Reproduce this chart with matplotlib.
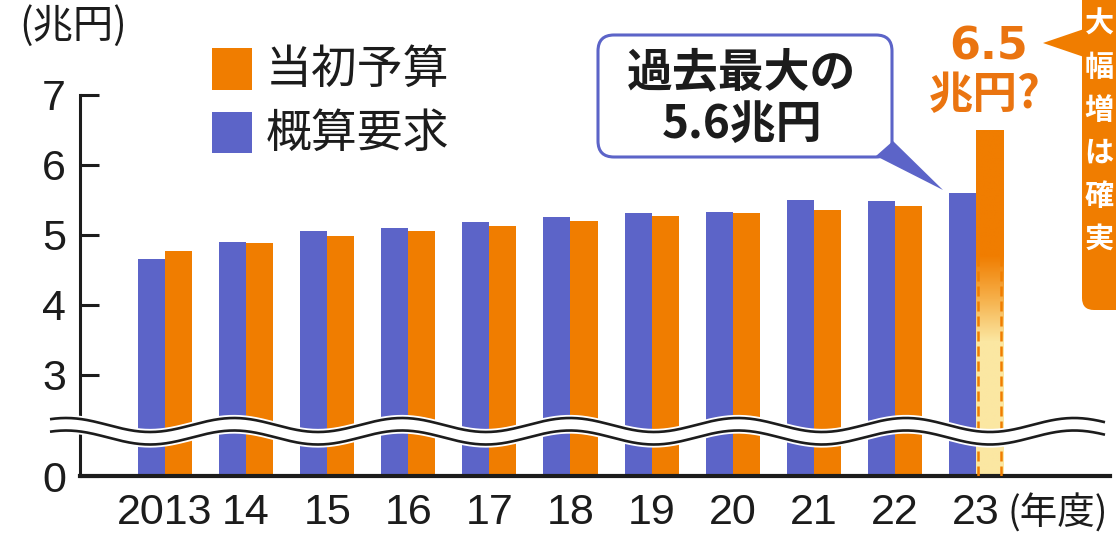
import numpy as np
import matplotlib.pyplot as plt
from matplotlib.patches import FancyBboxPatch, Polygon, Rectangle
from matplotlib.colors import LinearSegmentedColormap

# data (兆円)
years = ['2013', '14', '15', '16', '17', '18', '19', '20', '21', '22', '23']
gaisan = [4.66, 4.90, 5.06, 5.10, 5.18, 5.26, 5.31, 5.33, 5.50, 5.49, 5.60]   # 概算要求
tousho = [4.77, 4.89, 4.99, 5.06, 5.13, 5.20, 5.27, 5.32, 5.35, 5.41, 6.50]   # 当初予算 (23 = 見込み)
yticks = [0, 3, 4, 5, 6, 7]

BLUE = '#5c64c8'
ORANGE = '#f07d00'
PALE = '#fbe7a2'
INK = '#1c1c1c'
JP = ['Noto Sans CJK JP', 'DejaVu Sans']
NUM = ['Liberation Sans', 'DejaVu Sans']

BREAK = 1.557   # where "0" sits on the broken axis


def pos(v):
    return BREAK if v == 0 else v


W, H = 1116, 537
fig = plt.figure(figsize=(W / 100, H / 100), dpi=100)
ax = fig.add_axes([80 / W, (H - 476) / H, (1110 - 80) / W, (476 - 95) / H])

x = np.arange(len(years))
bw = 0.333
gaisan = np.array(gaisan)
tousho = np.array(tousho)

ax.bar(x - bw / 2, gaisan - BREAK, bw, bottom=BREAK, color=BLUE, zorder=2)
ax.bar(x[:-1] + bw / 2, tousho[:-1] - BREAK, bw, bottom=BREAK, color=ORANGE, zorder=2)

# 2023: projected bar, solid on top and fading to pale yellow
last = ax.bar(x[-1] + bw / 2, tousho[-1] - BREAK, bw, bottom=BREAK,
              facecolor='none', edgecolor='none', zorder=2)[0]
x0, x1 = x[-1], x[-1] + bw
yy = np.linspace(BREAK, tousho[-1], 300)
t = np.clip((yy - 3.47) / (4.70 - 3.47), 0, 1)
cmap = LinearSegmentedColormap.from_list('fade', [PALE, '#f6b04a', ORANGE])
img = ax.imshow(t[:, None], cmap=cmap, vmin=0, vmax=1, origin='lower', aspect='auto',
                extent=[x0, x1, BREAK, tousho[-1]], zorder=2)
img.set_clip_path(last)
for xe in (x0 + 0.02, x1 - 0.02):
    ax.plot([xe, xe], [BREAK, 4.70], color=ORANGE, lw=1.8, ls=(0, (4, 2)), zorder=3)

ax.set_xlim((80 - 165) / 81.1, (1110 - 165) / 81.1)
ax.set_ylim(BREAK, 7)
ax.set_yticks([pos(v) for v in yticks])
ax.set_yticklabels([str(v) for v in yticks])
ax.set_xticks(x)
ax.set_xticklabels(years)

for s in ('top', 'right'):
    ax.spines[s].set_visible(False)
ax.spines['left'].set_linewidth(2.2)
ax.spines['bottom'].set_linewidth(3)
ax.spines['left'].set_color(INK)
ax.spines['bottom'].set_color(INK)
ax.tick_params(axis='y', direction='in', length=14, width=2.2, color=INK, pad=10)
ax.tick_params(axis='x', length=0, pad=12)
for lab in ax.get_yticklabels():
    lab.set_family(NUM)
    lab.set_fontsize(31)
    lab.set_color(INK)
for lab in ax.get_xticklabels():
    lab.set_family(NUM)
    lab.set_fontsize(31)
    lab.set_color(INK)

# overlay in pixel space for the break, legend and callouts
ov = fig.add_axes([0, 0, 1, 1])
ov.set_xlim(0, W)
ov.set_ylim(H, 0)
ov.axis('off')

xs = np.linspace(50, 1105, 800)
up = 425 + 7 * np.cos(2 * np.pi * (xs - 150) / 168)
lo = up + 12.5
ov.fill_between(xs, up - 1, lo + 1, color='white', lw=0)
for yl in (up, lo):
    ov.plot(xs, yl, color='white', lw=4.5, solid_capstyle='butt')
    ov.plot(xs, yl, color=INK, lw=1.9, solid_capstyle='butt')

# legend
ov.add_patch(Rectangle((212, 48), 40, 42, color=ORANGE, lw=0))
ov.add_patch(Rectangle((212, 112), 40, 41, color=BLUE, lw=0))
ov.text(266, 70, '当初予算', family=JP, fontsize=33, color=INK, va='center', ha='left')
ov.text(266, 134, '概算要求', family=JP, fontsize=33, color=INK, va='center', ha='left')

ov.text(73, 26, '(兆円)', family=JP, fontsize=29, color=INK, va='center', ha='center')
ov.text(1058, 514, '(年度)', family=JP, fontsize=27, color=INK, va='center', ha='center')

# blue callout
ov.add_patch(FancyBboxPatch((598, 35), 294, 122, boxstyle='round,pad=0,rounding_size=16',
                            fc='white', ec=BLUE, lw=2.2))
ov.add_patch(Polygon([(876, 156), (893, 141), (943, 190)], closed=True, color=BLUE, lw=0))
ov.text(742, 73, '過去最大の', family=JP, fontsize=33, weight='bold', color=INK,
        va='center', ha='center')
ov.text(742, 125, '5.6兆円', family=JP, fontsize=33, weight='bold', color=INK,
        va='center', ha='center')

# projected value
ov.text(989, 47, '6.5', family='DejaVu Sans', fontsize=32, weight='bold', color='#ea7410',
        va='center', ha='center')
ov.text(985, 95, '兆円?', family=JP, fontsize=32, weight='bold', color='#ea7410',
        va='center', ha='center')

# orange side callout at the right edge, vertical text kept inside the picture
ov.add_patch(FancyBboxPatch((1082, -40), 90, 350, boxstyle='round,pad=0,rounding_size=12',
                            fc=ORANGE, ec='none'))
ov.add_patch(Polygon([(1043, 43), (1084, 29), (1084, 57)], closed=True, color=ORANGE, lw=0))
for i, ch in enumerate('大幅増は確実'):
    ov.text(1099, 24 + 43 * i, ch, family=JP, fontsize=21, weight='bold', color='white',
            va='center', ha='center')

fig.savefig('out.png', dpi=100)
